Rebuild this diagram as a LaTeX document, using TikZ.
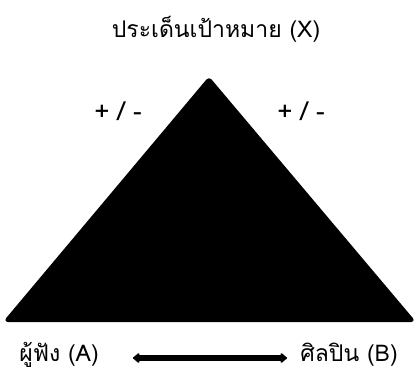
\documentclass[tikz,border=0pt]{standalone}
\usepackage{fontspec}
\newfontfamily\thaifont[Script=Thai]{Loma}
\usetikzlibrary{arrows.meta,positioning}

\begin{document}
\begin{tikzpicture}[
    x=1pt, y=-1pt,
    font=\thaifont\fontsize{23}{26}\selectfont,
    >={Triangle[round,length=7pt,width=11pt]},
    lbl/.style={inner sep=0pt, anchor=center},
    sign/.style={lbl, font=\thaifont\fontsize{26}{28}\selectfont}
]
\useasboundingbox (0,0) rectangle (419,372);

% Triangle
\coordinate (apex) at (209,78);
\coordinate (left) at (5,321);
\coordinate (right) at (414,321);
\fill[draw=black, line width=2pt, line join=round, rounded corners=3pt] (apex) -- (right) -- (left) -- cycle;

% Labels
\node[lbl] (target) at (216,29) {ประเด็นเป้าหมาย (X)};
\node[sign] (signL) at (118,111) {+\hspace{8pt}/\hspace{8pt}-};
\node[sign] (signR) at (301,111) {+\hspace{8pt}/\hspace{8pt}-};
\node[lbl] (listener) at (59,355) {ผู้ฟัง (A)};
\node[lbl] (artist) at (349,355) {ศิลปิน (B)};

% Relation
\coordinate (arrL) at (133,358);
\coordinate (arrR) at (287,358);
\draw[<->, line width=5.5pt] (arrL) -- (arrR);
\end{tikzpicture}
\end{document}
